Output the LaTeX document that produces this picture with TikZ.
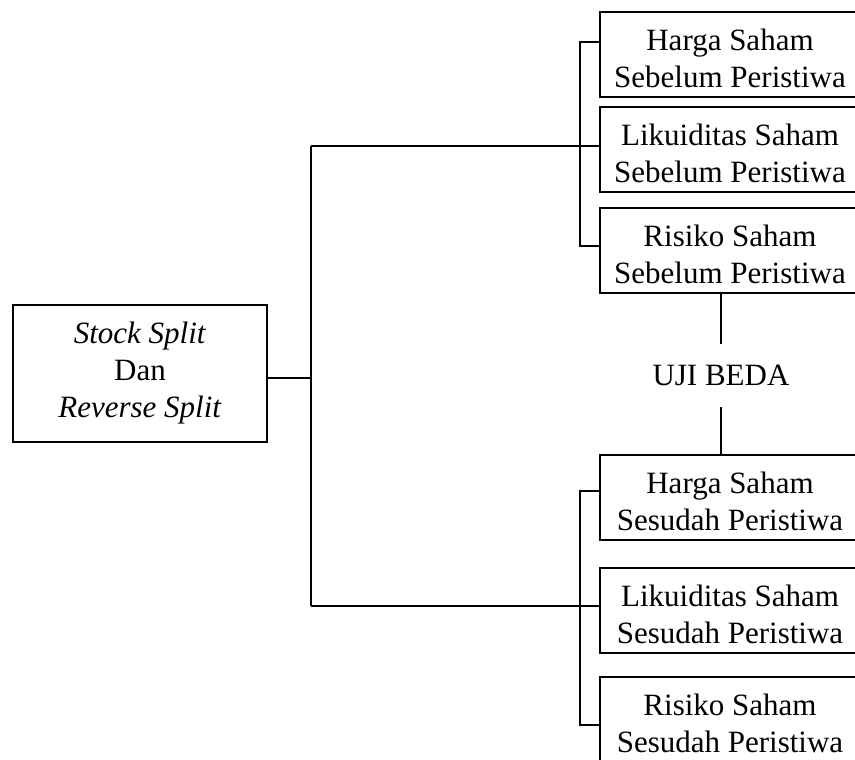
\documentclass[tikz,border=0pt]{standalone}
\usepackage{fontspec}
\setmainfont{Liberation Serif}
\usetikzlibrary{positioning}
\newcommand{\boxstrut}{\rule{0pt}{29pt}}

\begin{document}
\begin{tikzpicture}[x=1pt, y=-1pt, line width=2pt,
        every node/.style={font=\fontsize{31}{37}\selectfont},
        kotak/.style={draw, rectangle, minimum width=260pt, minimum height=85pt, align=center, inner sep=0pt}]
    \useasboundingbox (0,0) rectangle (855,760);

    \node[draw, rectangle, minimum width=254pt, minimum height=137pt, align=center] (SS) at (140,373.5) {\textit{Stock Split}\\Dan\\\textit{Reverse Split}};

    % sebelum peristiwa
    \node[kotak] (Hb) at (730,54.5) {\boxstrut Harga Saham\\Sebelum Peristiwa};
    \node[kotak, below=8pt of Hb] (Lb) {\boxstrut Likuiditas Saham\\Sebelum Peristiwa};
    \node[kotak, below=14pt of Lb] (Rb) {\boxstrut Risiko Saham\\Sebelum Peristiwa};

    % sesudah peristiwa
    \node[kotak, below=160pt of Rb] (Hs) {\boxstrut Harga Saham\\Sesudah Peristiwa};
    \node[kotak, below=26pt of Hs] (Ls) {\boxstrut Likuiditas Saham\\Sesudah Peristiwa};
    \node[kotak, below=22pt of Ls] (Rs) {\boxstrut Risiko Saham\\Sesudah Peristiwa};

    \node[inner sep=20pt] (uji) at (721,375.5) {UJI BEDA};

    \coordinate (atas) at (311,146);
    \coordinate (bawah) at (311,606);

    \draw ([yshift=-4.5pt]SS.east) -- ([yshift=-4.5pt]SS.east -| atas);
    \draw (atas) -- (bawah);
    \draw (atas) -- (atas -| Lb.west);
    \draw (bawah) -- (bawah -| Ls.west);
    \draw ([yshift=12.5pt]Hb.west) -- ++(-19,0) |- ([yshift=5pt]Rb.west);
    \draw ([yshift=7pt]Hs.west) -- ++(-19,0) |- ([yshift=-5.5pt]Rs.west);

    \draw (uji.north) -- (uji.north |- Rb.south);
    \draw (uji.south) -- (uji.south |- Hs.north);
\end{tikzpicture}
\end{document}
